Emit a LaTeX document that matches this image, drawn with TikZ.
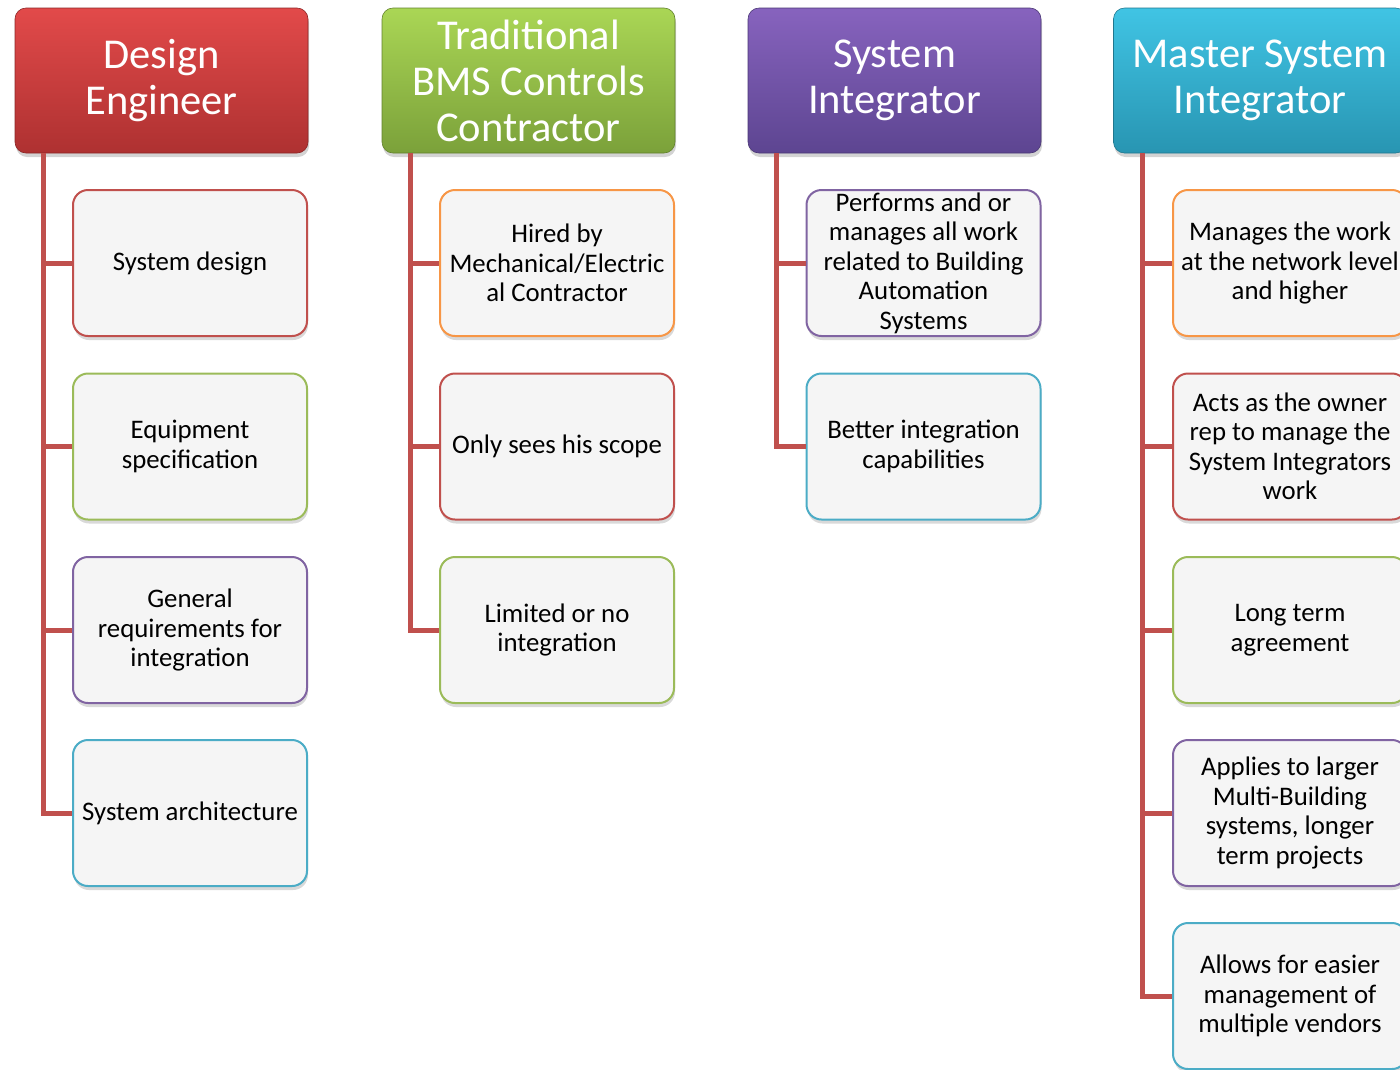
\documentclass[tikz,border=0pt]{standalone}
\usepackage{fontspec}
\setmainfont{Carlito}
\usetikzlibrary{shadows}

\definecolor{lnred}{HTML}{C0504D}
\definecolor{acred}{HTML}{C0504D}
\definecolor{acgreen}{HTML}{9BBB59}
\definecolor{acpurple}{HTML}{8064A2}
\definecolor{accyan}{HTML}{4BACC6}
\definecolor{acorange}{HTML}{F79646}
\definecolor{boxfill}{HTML}{F5F5F5}
\definecolor{HeadRedTop}{HTML}{E24A4A}
\definecolor{HeadRedBot}{HTML}{AE3131}
\definecolor{HeadGreenTop}{HTML}{AAD655}
\definecolor{HeadGreenBot}{HTML}{7BA13A}
\definecolor{HeadPurpleTop}{HTML}{8763BE}
\definecolor{HeadPurpleBot}{HTML}{5D4591}
\definecolor{HeadCyanTop}{HTML}{40C4E4}
\definecolor{HeadCyanBot}{HTML}{2895B2}

\tikzset{
  hdr/.style={rounded corners=11pt, minimum width=293pt, minimum height=145pt,
    inner sep=0pt, align=center, text=white, line width=0.6pt,
    font=\fontsize{42.5pt}{46pt}\selectfont,
    drop shadow={shadow xshift=1pt, shadow yshift=-4pt, opacity=0.35}},
  hred/.style={hdr, top color=HeadRedTop, bottom color=HeadRedBot, draw=HeadRedBot!80!black},
  hgreen/.style={hdr, top color=HeadGreenTop, bottom color=HeadGreenBot, draw=HeadGreenBot!80!black},
  hpurple/.style={hdr, top color=HeadPurpleTop, bottom color=HeadPurpleBot, draw=HeadPurpleBot!80!black},
  hcyan/.style={hdr, top color=HeadCyanTop, bottom color=HeadCyanBot, draw=HeadCyanBot!80!black},
  item/.style={rounded corners=15pt, minimum width=234pt, minimum height=146pt,
    inner sep=0pt, align=center, fill=boxfill, line width=2pt, text=black,
    font=\fontsize{26.8pt}{29.5pt}\selectfont,
    drop shadow={shadow xshift=1pt, shadow yshift=-4pt, opacity=0.3}},
  conn/.style={draw=lnred, line width=5pt},
}

\begin{document}
\begin{tikzpicture}[x=1pt, y=-1pt]
\useasboundingbox (0,0) rectangle (1400,1069);
\clip (0,0) rectangle (1400,1069);

% column headers
\node[hred]    (h1) at (161.5,80.5) {Design\\Engineer};
\node[hgreen]  (h2) at (528.5,80.5) {Traditional\\BMS Controls\\Contractor};
\node[hpurple] (h3) at (894.5,80.5) {System\\Integrator};
\node[hcyan]   (h4) at (1260,80.5)  {Master System\\Integrator};

% Design Engineer items
\node[item, draw=acred]    (c11) at (190,263)   {System design};
\node[item, draw=acgreen]  (c12) at (190,446.5) {Equipment\\specification};
\node[item, draw=acpurple] (c13) at (190,630)   {General\\requirements for\\integration};
\node[item, draw=accyan]   (c14) at (190,813)   {System architecture};

% Traditional BMS Controls Contractor items
\node[item, draw=acorange] (c21) at (557,263)   {Hired by\\Mechanical/Electric\\al Contractor};
\node[item, draw=acred]    (c22) at (557,446.5) {Only sees his scope};
\node[item, draw=acgreen]  (c23) at (557,630)   {Limited or no\\integration};

% System Integrator items
\node[item, draw=acpurple] (c31) at (923.5,263)   {Performs and or\\manages all work\\related to Building\\Automation\\Systems};
\node[item, draw=accyan]   (c32) at (923.5,446.5) {Better integration\\capabilities};

% Master System Integrator items
\node[item, draw=acorange] (c41) at (1290,263)   {Manages the work\\at the network level\\and higher};
\node[item, draw=acred]    (c42) at (1290,446.5) {Acts as the owner\\rep to manage the\\System Integrators\\work};
\node[item, draw=acgreen]  (c43) at (1290,630)   {Long term\\agreement};
\node[item, draw=acpurple] (c44) at (1290,813)   {Applies to larger\\Multi-Building\\systems, longer\\term projects};
\node[item, draw=accyan]   (c45) at (1290,996)   {Allows for easier\\management of\\multiple vendors};

% connectors: trunk from each header down to its items
\foreach \h/\c in {h1/c11,h1/c12,h1/c13,h1/c14,
                   h2/c21,h2/c22,h2/c23,
                   h3/c31,h3/c32,
                   h4/c41,h4/c42,h4/c43,h4/c44,h4/c45}
  \draw[conn] ([xshift=29pt]\h.south west) |- (\c.west);
\end{tikzpicture}
\end{document}
